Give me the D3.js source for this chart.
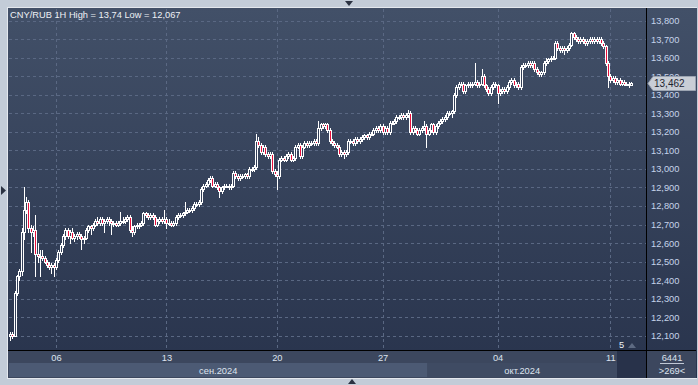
<!DOCTYPE html>
<html>
<head>
<meta charset="utf-8">
<script src="https://cdn.jsdelivr.net/npm/d3@7"></script>
<style>
  body { margin: 0; background: #c3ccd8; }
  svg { display: block; font-family: "Liberation Sans", Arial, sans-serif; }
</style>
</head>
<body>
<svg id="chart" width="698" height="385"></svg>
<script>
// hourly bars, [open, high, low, close]
const wk0 = [
  [12.10,12.12,12.08,12.11],[12.11,12.12,12.09,12.10],[12.10,12.34,12.10,12.33],[12.33,12.43,12.32,12.42],
  [12.42,12.46,12.40,12.45],[12.45,12.68,12.43,12.66],[12.66,12.90,12.62,12.78],[12.78,12.85,12.76,12.82],
  [12.82,12.83,12.66,12.68],[12.68,12.70,12.55,12.66],[12.66,12.69,12.64,12.67],[12.67,12.75,12.42,12.54],
  [12.54,12.60,12.50,12.53],[12.53,12.56,12.42,12.53],[12.53,12.56,12.51,12.52],[12.52,12.53,12.49,12.50],
  [12.50,12.51,12.47,12.48],[12.48,12.50,12.46,12.47],[12.47,12.49,12.44,12.48],[12.48,12.49,12.42,12.47]
];
const wk1 = [
  [12.47,12.52,12.46,12.51],[12.51,12.56,12.50,12.55],[12.55,12.60,12.54,12.59],[12.59,12.65,12.58,12.64],
  [12.64,12.68,12.62,12.67],[12.67,12.68,12.63,12.64],[12.64,12.67,12.60,12.66],[12.66,12.68,12.62,12.63],
  [12.63,12.65,12.61,12.64],[12.64,12.66,12.62,12.65],[12.65,12.66,12.63,12.64],[12.64,12.65,12.57,12.62],
  [12.62,12.64,12.60,12.63],[12.63,12.68,12.62,12.67],[12.67,12.70,12.66,12.69],[12.69,12.70,12.65,12.68],
  [12.68,12.71,12.67,12.70],[12.70,12.73,12.69,12.72],[12.72,12.74,12.70,12.71],[12.71,12.74,12.70,12.73],
  [12.73,12.74,12.70,12.71],[12.71,12.73,12.66,12.72],[12.72,12.74,12.71,12.73],[12.73,12.74,12.70,12.72],
  [12.72,12.73,12.65,12.71],[12.71,12.72,12.69,12.71],[12.71,12.72,12.69,12.70],[12.70,12.72,12.69,12.71],
  [12.71,12.77,12.70,12.72],[12.72,12.74,12.71,12.72],[12.72,12.74,12.71,12.73],[12.73,12.75,12.72,12.74],
  [12.74,12.75,12.66,12.67],[12.67,12.69,12.64,12.66],[12.66,12.70,12.65,12.69],[12.69,12.71,12.68,12.70],
  [12.70,12.71,12.68,12.70],[12.70,12.72,12.69,12.71],[12.71,12.77,12.70,12.76],[12.76,12.77,12.74,12.75],
  [12.75,12.76,12.73,12.74],[12.74,12.76,12.73,12.75],[12.75,12.76,12.73,12.74],[12.74,12.75,12.69,12.70],
  [12.70,12.73,12.69,12.72],[12.72,12.74,12.71,12.73],[12.73,12.74,12.71,12.72],[12.72,12.78,12.71,12.73]
];
const wk2 = [
  [12.73,12.74,12.68,12.71],[12.71,12.73,12.70,12.71],[12.71,12.72,12.69,12.70],[12.70,12.72,12.69,12.71],
  [12.71,12.75,12.70,12.74],[12.74,12.76,12.73,12.75],[12.75,12.76,12.74,12.75],[12.75,12.77,12.74,12.76],
  [12.76,12.82,12.75,12.77],[12.77,12.79,12.76,12.78],[12.78,12.79,12.77,12.78],[12.78,12.80,12.77,12.79],
  [12.79,12.82,12.78,12.81],[12.81,12.82,12.80,12.81],[12.81,12.83,12.80,12.82],[12.82,12.90,12.81,12.89],
  [12.89,12.92,12.88,12.91],[12.91,12.93,12.90,12.92],[12.92,12.95,12.91,12.94],[12.94,12.96,12.93,12.95],
  [12.95,12.96,12.90,12.91],[12.91,12.93,12.90,12.92],[12.92,12.93,12.89,12.90],[12.90,12.91,12.85,12.88],
  [12.88,12.91,12.87,12.90],[12.90,12.92,12.89,12.91],[12.91,12.92,12.90,12.91],[12.91,12.92,12.89,12.90],
  [12.90,12.92,12.89,12.91],[12.91,12.99,12.90,12.98],[12.98,12.99,12.95,12.96],[12.96,12.97,12.94,12.95],
  [12.95,12.97,12.94,12.96],[12.96,12.97,12.95,12.96],[12.96,12.98,12.95,12.97],[12.97,12.98,12.95,12.96],
  [12.96,13.01,12.95,13.00],[13.00,13.01,12.99,13.00],[13.00,13.02,12.99,13.01],[13.01,13.19,13.00,13.15],
  [13.15,13.17,13.12,13.13],[13.13,13.14,13.08,13.09],[13.09,13.13,13.08,13.12],[13.12,13.13,13.07,13.08],
  [13.08,13.09,13.06,13.07],[13.07,13.09,13.06,13.08],[13.08,13.09,12.98,12.99],[12.99,13.00,12.96,12.97]
];
const wk3 = [
  [12.97,12.99,12.89,12.96],[12.96,13.06,12.95,13.05],[13.05,13.07,13.04,13.06],[13.06,13.07,13.04,13.05],
  [13.05,13.08,13.04,13.07],[13.07,13.09,13.06,13.08],[13.08,13.09,13.04,13.05],[13.05,13.07,13.04,13.06],
  [13.06,13.13,13.05,13.12],[13.12,13.14,13.11,13.13],[13.13,13.14,13.06,13.07],[13.07,13.13,13.06,13.12],
  [13.12,13.15,13.11,13.14],[13.14,13.15,13.12,13.13],[13.13,13.15,13.12,13.14],[13.14,13.15,13.13,13.14],
  [13.14,13.16,13.13,13.15],[13.15,13.16,13.13,13.14],[13.14,13.26,13.13,13.22],[13.22,13.25,13.21,13.24],
  [13.24,13.25,13.22,13.23],[13.23,13.25,13.22,13.24],[13.24,13.25,13.20,13.21],[13.21,13.22,13.14,13.15],
  [13.15,13.16,13.13,13.14],[13.14,13.15,13.12,13.13],[13.13,13.14,13.11,13.12],[13.12,13.13,13.07,13.08],
  [13.08,13.10,13.07,13.09],[13.09,13.10,13.06,13.08],[13.08,13.10,13.07,13.09],[13.09,13.16,13.08,13.15],
  [13.15,13.16,13.14,13.15],[13.15,13.16,13.13,13.14],[13.14,13.17,13.13,13.16],[13.16,13.17,13.14,13.15],
  [13.15,13.17,13.14,13.16],[13.16,13.18,13.15,13.17],[13.17,13.19,13.16,13.18],[13.18,13.19,13.16,13.17],
  [13.17,13.20,13.16,13.19],[13.19,13.20,13.18,13.19],[13.19,13.22,13.18,13.21],[13.21,13.23,13.20,13.22],
  [13.22,13.23,13.20,13.21],[13.21,13.24,13.20,13.23]
];
const wk4 = [
  [13.23,13.24,13.19,13.20],[13.20,13.23,13.19,13.22],[13.22,13.23,13.19,13.20],[13.20,13.26,13.19,13.25],
  [13.25,13.26,13.24,13.25],[13.25,13.27,13.24,13.26],[13.26,13.29,13.25,13.28],[13.28,13.29,13.27,13.28],
  [13.28,13.30,13.27,13.29],[13.29,13.30,13.27,13.28],[13.28,13.30,13.27,13.29],[13.29,13.32,13.28,13.30],
  [13.30,13.31,13.19,13.20],[13.20,13.23,13.19,13.22],[13.22,13.23,13.20,13.21],[13.21,13.22,13.18,13.19],
  [13.19,13.22,13.18,13.21],[13.21,13.23,13.20,13.22],[13.22,13.26,13.21,13.23],[13.23,13.24,13.12,13.19],
  [13.19,13.22,13.18,13.21],[13.21,13.25,13.20,13.24],[13.24,13.25,13.19,13.20],[13.20,13.24,13.19,13.23],
  [13.23,13.26,13.22,13.25],[13.25,13.27,13.24,13.26],[13.26,13.28,13.25,13.27],[13.27,13.29,13.26,13.28],
  [13.28,13.31,13.27,13.30],[13.30,13.31,13.29,13.30],[13.30,13.32,13.28,13.31],[13.31,13.41,13.30,13.40],
  [13.40,13.45,13.39,13.44],[13.44,13.47,13.43,13.46],[13.46,13.47,13.45,13.46],[13.46,13.47,13.41,13.42],
  [13.42,13.46,13.41,13.45],[13.45,13.47,13.44,13.46],[13.46,13.47,13.44,13.45],[13.45,13.47,13.44,13.46],
  [13.46,13.57,13.45,13.47],[13.47,13.48,13.44,13.45],[13.45,13.47,13.44,13.46],[13.46,13.54,13.45,13.50],
  [13.50,13.51,13.44,13.45],[13.45,13.46,13.42,13.43],[13.43,13.44,13.40,13.41],[13.41,13.45,13.40,13.44],
  [13.44,13.47,13.43,13.46],[13.46,13.47,13.44,13.45]
];
const wk5 = [
  [13.45,13.46,13.355,13.41],[13.41,13.43,13.40,13.42],[13.42,13.44,13.41,13.43],[13.43,13.44,13.41,13.42],
  [13.42,13.45,13.41,13.44],[13.44,13.48,13.43,13.47],[13.47,13.49,13.46,13.48],[13.48,13.49,13.44,13.45],
  [13.45,13.47,13.44,13.46],[13.46,13.47,13.43,13.44],[13.44,13.56,13.43,13.55],[13.55,13.57,13.54,13.56],
  [13.56,13.57,13.55,13.56],[13.56,13.58,13.55,13.57],[13.57,13.58,13.55,13.56],[13.56,13.58,13.55,13.57],
  [13.57,13.58,13.53,13.54],[13.54,13.55,13.51,13.52],[13.52,13.53,13.50,13.51],[13.51,13.53,13.50,13.52],
  [13.52,13.58,13.51,13.57],[13.57,13.60,13.56,13.58],[13.58,13.60,13.57,13.59],[13.59,13.61,13.58,13.60],
  [13.60,13.61,13.59,13.60],[13.60,13.69,13.59,13.68],[13.68,13.69,13.64,13.65],[13.65,13.66,13.63,13.64],
  [13.64,13.66,13.63,13.65],[13.65,13.66,13.62,13.64],[13.64,13.66,13.63,13.65],[13.65,13.68,13.64,13.67],
  [13.67,13.74,13.66,13.73],[13.73,13.74,13.70,13.71],[13.71,13.72,13.69,13.70],[13.70,13.71,13.68,13.69],
  [13.69,13.71,13.68,13.70],[13.70,13.71,13.68,13.69],[13.69,13.70,13.67,13.68],[13.68,13.70,13.67,13.69],
  [13.69,13.71,13.68,13.70],[13.70,13.71,13.68,13.69],[13.69,13.71,13.68,13.70],[13.70,13.71,13.68,13.69],
  [13.69,13.71,13.68,13.70],[13.70,13.71,13.67,13.68],[13.68,13.69,13.65,13.66],[13.66,13.67,13.56,13.57],
  [13.57,13.58,13.44,13.50]
];
const wk6 = [
  [13.50,13.51,13.47,13.48],[13.48,13.50,13.47,13.49],[13.49,13.50,13.46,13.47],[13.47,13.49,13.46,13.48],
  [13.48,13.49,13.45,13.46],[13.46,13.48,13.45,13.47],[13.47,13.48,13.45,13.46],[13.46,13.47,13.45,13.46],
  [13.46,13.47,13.44,13.45],[13.45,13.47,13.45,13.462]
];

const priceTicks = [12.1,12.2,12.3,12.4,12.5,12.6,12.7,12.8,12.9,13.0,13.1,13.2,13.3,13.4,13.5,13.6,13.7,13.8];
const dayTicks = [20, 68, 116, 162, 212, 261];   // bar index where each label sits
const dayLabels = ["06", "13", "20", "27", "04", "11"];
const monthLabels = ["сен.2024", "окт.2024"];
const monthStart = [0, 182];                       // first bar of each month
const title = "CNY/RUB 1H High = 13,74 Low = 12,067";
const lastPrice = 13.462;

const bars = [].concat(wk0, wk1, wk2, wk3, wk4, wk5, wk6);

var svg = d3.select("#chart");
const W = 698, H = 385;
const plotL = 9, plotR = 646, plotT = 9, plotB = 350;

let x = d3.scaleLinear().domain([0, bars.length - 1]).range([10, 631]);
let y = d3.scaleLinear().domain([12.1, 13.8]).range([335.8, 20.5]);
const comma = d => d3.format(".3f")(d).replace(".", ",");

// background gradient
var defs = svg.append("defs");
var grad = defs.append("linearGradient").attr("id", "bg").attr("x1", 0).attr("y1", 0).attr("x2", 0).attr("y2", 1);
grad.append("stop").attr("offset", "0%").attr("stop-color", "#425068");
grad.append("stop").attr("offset", "100%").attr("stop-color", "#28334c");

// frame
svg.append("rect").attr("x", 7).attr("y", 7).attr("width", W - 8).attr("height", 372).attr("fill", "#e4e8ee");
svg.append("rect").attr("x", 8).attr("y", 8).attr("width", W - 9).attr("height", 370).attr("fill", "url(#bg)");

// time axis bands
svg.append("rect").attr("x", 8).attr("y", plotB).attr("width", plotR - 8).attr("height", 28).attr("fill", "#3c475e");
const bandEdge = (x(monthStart[1] - 1) + x(monthStart[1])) / 2;
svg.append("rect").attr("x", 9).attr("y", 363).attr("width", bandEdge - 9).attr("height", 14).attr("fill", "#4c5a74");
svg.append("rect").attr("x", bandEdge).attr("y", 363).attr("width", 617 - bandEdge).attr("height", 14).attr("fill", "#3f4b63");
svg.append("rect").attr("x", 617).attr("y", 351).attr("width", plotR - 617).attr("height", 27).attr("fill", "#28324a");
svg.append("rect").attr("x", plotR).attr("y", plotB).attr("width", W - plotR - 2).attr("height", 28).attr("fill", "#3c475e");

// grid
var grid = svg.append("g").attr("stroke", "#5a6883").attr("stroke-dasharray", "3,3").attr("stroke-width", 1);
grid.selectAll("line.h").data(priceTicks).join("line").attr("class", "h")
  .attr("x1", plotL).attr("x2", plotR)
  .attr("y1", d => Math.round(y(d)) + 0.5).attr("y2", d => Math.round(y(d)) + 0.5);
grid.selectAll("line.v").data(dayTicks).join("line").attr("class", "v")
  .attr("y1", plotT).attr("y2", plotB)
  .attr("x1", d => Math.round(x(d)) + 0.5).attr("x2", d => Math.round(x(d)) + 0.5);

// candles
var cg = svg.append("g");
var candle = cg.selectAll("g").data(bars).join("g");
candle.append("line")
  .attr("x1", (d, i) => Math.round(x(i)) + 0.5).attr("x2", (d, i) => Math.round(x(i)) + 0.5)
  .attr("y1", d => Math.round(y(d[1]))).attr("y2", d => Math.round(y(d[2])) + 1)
  .attr("stroke", "#ffffff");
candle.append("rect")
  .attr("x", (d, i) => Math.round(x(i)) - 0.5)
  .attr("y", d => Math.round(y(Math.max(d[0], d[3]))) + 0.5)
  .attr("width", 2)
  .attr("height", d => Math.max(1, Math.round(y(Math.min(d[0], d[3]))) - Math.round(y(Math.max(d[0], d[3])))))
  .attr("fill", d => d[3] < d[0] ? "#e8103c" : "#333f58")
  .attr("stroke", "#ffffff");

// separators
svg.append("line").attr("x1", plotR + 0.5).attr("x2", plotR + 0.5).attr("y1", 8).attr("y2", 378).attr("stroke", "#000");
svg.append("line").attr("x1", 8).attr("x2", W - 2).attr("y1", plotB + 0.5).attr("y2", plotB + 0.5).attr("stroke", "#000");

// price axis
var yAxis = svg.append("g").attr("transform", `translate(${plotR},0)`)
  .call(d3.axisRight(y).tickValues(priceTicks).tickFormat(comma).tickSize(0).tickPadding(5));
yAxis.select(".domain").remove();
yAxis.selectAll("text").attr("fill", "#c6d3ea").style("font-size", "9.3px");

// day axis
var xAxis = svg.append("g").attr("transform", `translate(0,${plotB})`)
  .call(d3.axisBottom(x).tickValues(dayTicks).tickFormat((d, i) => dayLabels[i]).tickSize(0).tickPadding(4));
xAxis.select(".domain").remove();
xAxis.selectAll("text").attr("fill", "#dde3ee").style("font-size", "9.3px");

// month labels
const monthEnd = [bandEdge, 617];
svg.selectAll("text.month").data(monthLabels).join("text").attr("class", "month")
  .attr("x", (d, i) => ((i == 0 ? plotL : bandEdge) + monthEnd[i]) / 2)
  .attr("y", 373.5).attr("text-anchor", "middle")
  .attr("fill", "#dde3ee").style("font-size", "9.3px").text(d => d);

// title
svg.append("text").attr("x", 10).attr("y", 18).attr("fill", "#eef1f6").style("font-size", "9.3px").text(title);

// last price tag
const ly = Math.round(y(lastPrice));
svg.append("path")
  .attr("d", `M648,${ly + 0.5} L653,${ly - 6.5} H695.5 V${ly + 7.5} H653 Z`)
  .attr("fill", "#c9ced6").attr("stroke", "#9ba4b2");
svg.append("text").attr("x", 654).attr("y", ly + 4).attr("fill", "#1e2430")
  .style("font-size", "10px").text(comma(lastPrice));

// bottom-right counters and marker
svg.append("text").attr("x", 672).attr("y", 360.5).attr("text-anchor", "middle").attr("fill", "#dde3ee").style("font-size", "9.3px").text("6441");
svg.append("line").attr("x1", 660).attr("x2", 684).attr("y1", 363.5).attr("y2", 363.5).attr("stroke", "#c0c8d6");
svg.append("text").attr("x", 672).attr("y", 373.5).attr("text-anchor", "middle").attr("fill", "#dde3ee").style("font-size", "9.3px").text(">269<");
svg.append("text").attr("x", 619).attr("y", 348).attr("fill", "#eef1f6").style("font-size", "9.3px").text("5");
svg.append("path").attr("d", "M628,348 L632,343 L636,348 Z").attr("fill", "#5d6a82");

// little scroll arrows on the outer frame
svg.append("path").attr("d", "M345,1 L353,1 L349,6 Z").attr("fill", "#2b3242");
svg.append("path").attr("d", "M348,384 L356,384 L352,379 Z").attr("fill", "#2b3242");
svg.append("path").attr("d", "M1,186 L6,190.5 L1,195 Z").attr("fill", "#2b3242");
</script>
</body>
</html>
